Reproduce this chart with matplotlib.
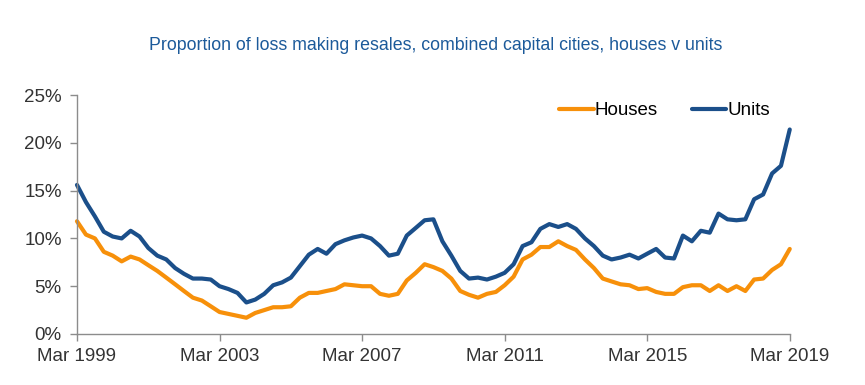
"""
Proporção de revendas com prejuízo, capitais combinadas: casas vs unidades.
Série trimestral Mar/1999 – Mar/2019 lida do gráfico de referência.
"""
import numpy as np
import pandas as pd
import matplotlib
matplotlib.use("Agg")
import matplotlib.pyplot as plt
import matplotlib.dates as mdates

# ── dados (%), trimestral a partir de Mar 1999 ──
datas = pd.date_range("1999-03-01", "2019-03-01", freq="3MS")

houses = [
    11.8, 10.4, 10.0, 8.6, 8.2, 7.6, 8.1, 7.8, 7.2, 6.6, 5.9, 5.2, 4.5, 3.8, 3.5, 2.9,
    2.3, 2.1, 1.9, 1.7, 2.2, 2.5, 2.8, 2.8, 2.9, 3.8, 4.3, 4.3, 4.5, 4.7, 5.2, 5.1,
    5.0, 5.0, 4.2, 4.0, 4.2, 5.6, 6.4, 7.3, 7.0, 6.6, 5.8, 4.5, 4.1, 3.8, 4.2, 4.4,
    5.1, 6.0, 7.8, 8.3, 9.1, 9.1, 9.7, 9.2, 8.8, 7.8, 6.9, 5.8, 5.5, 5.2, 5.1, 4.7,
    4.8, 4.4, 4.2, 4.2, 4.9, 5.1, 5.1, 4.5, 5.1, 4.5, 5.0, 4.5, 5.7, 5.8, 6.7, 7.3,
    8.9,
]
units = [
    15.6, 13.8, 12.3, 10.7, 10.2, 10.0, 10.8, 10.2, 9.0, 8.2, 7.8, 6.9, 6.3, 5.8, 5.8, 5.7,
    5.0, 4.7, 4.3, 3.3, 3.6, 4.2, 5.1, 5.4, 5.9, 7.1, 8.3, 8.9, 8.4, 9.4, 9.8, 10.1,
    10.3, 10.0, 9.2, 8.2, 8.4, 10.3, 11.1, 11.9, 12.0, 9.7, 8.2, 6.6, 5.8, 5.9, 5.7, 6.0,
    6.4, 7.3, 9.2, 9.6, 11.0, 11.5, 11.2, 11.5, 11.0, 10.0, 9.2, 8.2, 7.8, 8.0, 8.3, 7.9,
    8.4, 8.9, 8.0, 7.9, 10.3, 9.7, 10.8, 10.6, 12.6, 12.0, 11.9, 12.0, 14.1, 14.6, 16.8, 17.6,
    21.4,
]

anos_ticks = [1999, 2003, 2007, 2011, 2015, 2019]
y_ticks = [0, 5, 10, 15, 20, 25]

COR_HOUSES = "#f7900a"
COR_UNITS = "#1b4f8a"
COR_TITULO = "#1c5a9a"
COR_EIXO = "#8c8c8c"
COR_TEXTO = "#333333"

plt.rcParams["font.family"] = ["Liberation Sans", "DejaVu Sans"]

fig = plt.figure(figsize=(8.65, 3.85), dpi=100)
ax = fig.add_axes([0.089, 0.1325, 0.824, 0.6205])

ax.plot(datas, houses, color=COR_HOUSES, lw=3.0, label="Houses",
        solid_joinstyle="round", solid_capstyle="round", clip_on=False)
ax.plot(datas, units, color=COR_UNITS, lw=3.0, label="Units",
        solid_joinstyle="round", solid_capstyle="round", clip_on=False)

ax.set_xlim(pd.Timestamp("1999-03-01"), pd.Timestamp("2019-03-01"))
ax.set_ylim(0, 25)

ax.set_yticks(y_ticks)
ax.set_yticklabels([f"{v}%" for v in y_ticks])
ax.set_xticks([pd.Timestamp(f"{a}-03-01") for a in anos_ticks])
ax.xaxis.set_major_formatter(mdates.DateFormatter("Mar %Y"))

for lado in ("top", "right"):
    ax.spines[lado].set_visible(False)
for lado in ("left", "bottom"):
    ax.spines[lado].set_color(COR_EIXO)
    ax.spines[lado].set_linewidth(1.0)

ax.tick_params(axis="y", length=5, width=1, color=COR_EIXO, pad=6,
               labelsize=13.5, labelcolor=COR_TEXTO)
ax.tick_params(axis="x", length=5, width=1, color=COR_EIXO, pad=5,
               labelsize=13.5, labelcolor=COR_TEXTO)

ax.legend(loc="upper right", bbox_to_anchor=(0.996, 1.041), ncol=2, frameon=False,
          fontsize=13.5, handlelength=1.85, handletextpad=0.05,
          columnspacing=1.8)

fig.text(0.504, 0.883, "Proportion of loss making resales, combined capital cities, houses v units",
         ha="center", va="center", fontsize=12.8, color=COR_TITULO)

fig.savefig("out.png", dpi=100)
plt.close(fig)
